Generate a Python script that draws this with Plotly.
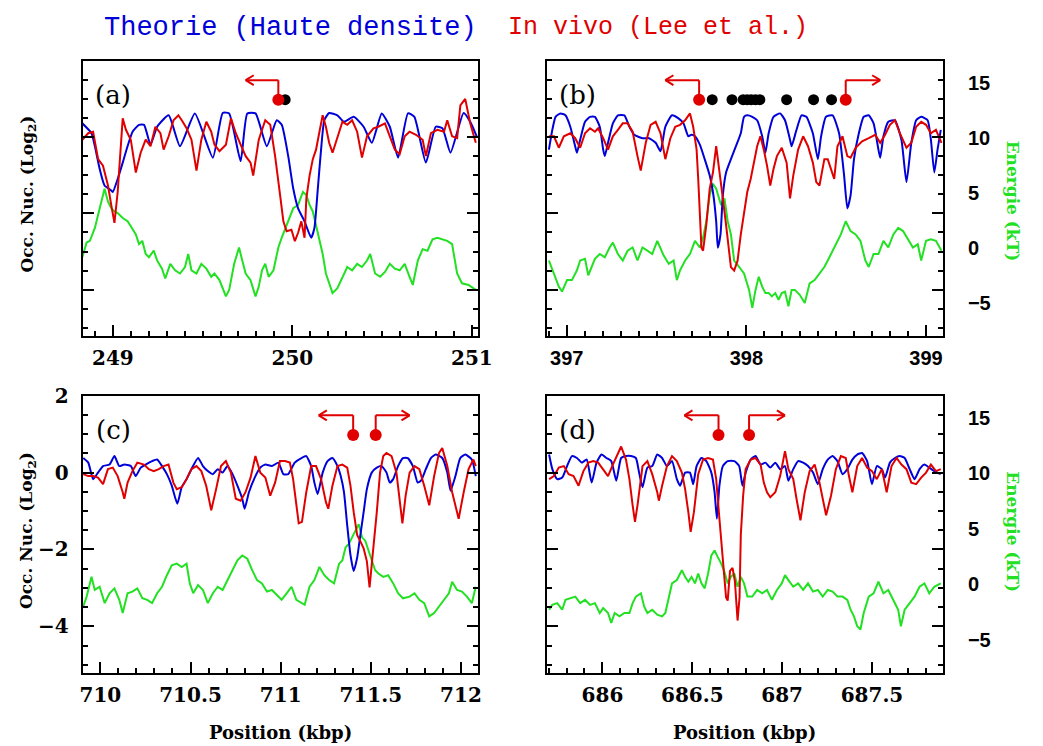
import plotly.graph_objects as go

# ---------------- data ----------------
TITLE_THEORY = "Theorie (Haute densite)"
TITLE_VIVO = "In vivo (Lee et al.)"
PANEL_LABELS = ["(a)", "(b)", "(c)", "(d)"]
X_RANGES = [(248.832, 251.035), (396.893, 399.094), (709.902, 712.095), (685.694, 687.895)]
X_DTICK = [1, 1, 0.5, 0.5]
LOG_RANGE = (-5.22, 2.001)
LOG_TICKS = [2, 0, -2, -4]
LOG_TICKTEXT = ["2", "0", "\u22122", "\u22124"]
EN_RANGE = (-8, 17)
EN_TICKS = [-5, 0, 5, 10, 15]
EN_TICKTEXT = ["\u22125", "0", "5", "10", "15"]

# panel (a)  position (kbp), log2 occupancy / energy (kT)
A_BLUE = [(248.830, 0.36), (248.881, 0.10), (248.900, -0.24), (248.927, -0.84), (248.954, -1.27), (248.991, -1.40), (249.000, -1.44), (249.027, -1.10), (249.055, -0.67), (249.082, -0.24), (249.110, 0.14), (249.146, 0.32), (249.174, 0.32), (249.210, -0.20), (249.247, 0.27), (249.311, 0.57), (249.374, -0.24), (249.457, 0.62), (249.557, -0.54), (249.612, 0.63), (249.648, 0.62), (249.712, -0.63), (249.749, 0.62), (249.795, 0.62), (249.858, -0.24), (249.913, 0.44), (249.941, 0.32), (249.977, -0.50), (250.005, -1.35), (250.032, -1.87), (250.068, -2.21), (250.105, -2.64), (250.123, -2.38), (250.142, -1.35), (250.160, -0.33), (250.178, 0.44), (250.205, 0.63), (250.251, 0.57), (250.288, 0.40), (250.342, 0.53), (250.397, 0.27), (250.443, -0.15), (250.498, 0.62), (250.543, 0.27), (250.589, -0.54), (250.644, 0.62), (250.680, 0.53), (250.744, -0.67), (250.799, 0.27), (250.836, 0.23), (250.881, -0.41), (250.954, 0.63), (250.991, 0.40), (251.027, 0.02)]
A_RED = [(248.830, -0.07), (248.863, 0.10), (248.890, 0.14), (248.918, -0.58), (248.945, -0.75), (248.973, -1.27), (248.991, -1.78), (249.009, -2.25), (249.027, -1.44), (249.042, -0.33), (249.055, 0.49), (249.073, 0.19), (249.100, -0.07), (249.128, -0.93), (249.155, -0.41), (249.183, -0.07), (249.210, -0.24), (249.237, 0.27), (249.265, 0.10), (249.283, -0.33), (249.311, 0.02), (249.338, 0.44), (249.365, 0.57), (249.384, 0.44), (249.411, 0.23), (249.438, -0.07), (249.466, -0.88), (249.493, -0.07), (249.521, 0.40), (249.548, 0.14), (249.566, -0.20), (249.594, -0.37), (249.630, -0.20), (249.658, 0.49), (249.685, 0.10), (249.712, -0.20), (249.740, -0.50), (249.767, -0.67), (249.782, -1.01), (249.813, -0.07), (249.849, 0.44), (249.877, 0.32), (249.904, -0.50), (249.932, -1.53), (249.950, -2.21), (249.968, -2.47), (249.995, -2.43), (250.014, -2.73), (250.032, -2.51), (250.050, -2.21), (250.068, -2.64), (250.078, -1.61), (250.096, -1.01), (250.114, -0.58), (250.132, -0.33), (250.151, 0.14), (250.169, 0.57), (250.187, 0.27), (250.205, -0.15), (250.224, -0.41), (250.251, -0.03), (250.279, 0.40), (250.306, 0.32), (250.333, 0.44), (250.361, 0.14), (250.388, -0.54), (250.416, 0.02), (250.452, 0.23), (250.479, 0.27), (250.516, 0.36), (250.543, 0.02), (250.571, -0.33), (250.598, -0.45), (250.626, 0.02), (250.653, 0.14), (250.689, 0.06), (250.726, -0.07), (250.744, -0.50), (250.772, 0.10), (250.808, 0.19), (250.845, 0.14), (250.863, 0.44), (250.890, 0.02), (250.918, -0.03), (250.936, 0.83), (250.963, 1.00), (250.991, 0.36), (251.022, -0.15)]
A_GREEN = [(248.830, -0.84), (248.854, 0.50), (248.872, 0.65), (248.900, 1.83), (248.927, 3.61), (248.945, 4.80), (248.954, 5.39), (248.973, 4.21), (248.991, 3.61), (249.009, 3.32), (249.027, 3.17), (249.055, 2.72), (249.082, 2.43), (249.100, 1.98), (249.128, 1.24), (249.146, 0.35), (249.164, 0.65), (249.183, -0.54), (249.201, -0.84), (249.228, -0.24), (249.247, -1.13), (249.274, -1.87), (249.292, -2.76), (249.320, -1.43), (249.347, -2.02), (249.374, -2.31), (249.402, -1.72), (249.420, -0.54), (249.438, -2.02), (249.466, -2.31), (249.493, -1.43), (249.521, -1.87), (249.548, -2.61), (249.566, -2.31), (249.594, -2.91), (249.630, -4.39), (249.648, -3.80), (249.676, -1.43), (249.703, 0.05), (249.721, -1.13), (249.740, -2.31), (249.767, -2.91), (249.795, -4.39), (249.813, -3.50), (249.831, -2.02), (249.849, -1.43), (249.868, -2.61), (249.895, -2.02), (249.922, 0.05), (249.941, 0.94), (249.977, 2.43), (250.005, 3.61), (250.032, 3.91), (250.059, 5.09), (250.078, 4.80), (250.096, 3.91), (250.114, 3.32), (250.142, 1.24), (250.169, -0.54), (250.187, -2.31), (250.205, -3.20), (250.224, -4.09), (250.251, -3.65), (250.279, -2.61), (250.306, -1.72), (250.333, -2.02), (250.361, -1.43), (250.388, -1.72), (250.416, -1.13), (250.434, -0.54), (250.461, -2.31), (250.489, -2.61), (250.516, -2.17), (250.543, -1.43), (250.571, -1.87), (250.598, -2.02), (250.626, -1.43), (250.653, -2.61), (250.671, -3.35), (250.699, -1.13), (250.726, -0.10), (250.753, -0.24), (250.781, 0.79), (250.808, 0.94), (250.836, 0.79), (250.863, 0.65), (250.890, 0.35), (250.918, -2.31), (250.945, -3.20), (250.982, -3.35), (251.022, -3.80)]

# panel (b)
B_BLUE = [(396.901, -0.33), (396.920, 0.19), (396.938, 0.53), (396.965, 0.62), (396.993, 0.57), (397.020, 0.27), (397.047, -0.24), (397.057, -0.41), (397.075, -0.07), (397.102, 0.40), (397.130, 0.53), (397.157, 0.53), (397.184, 0.27), (397.203, -0.33), (397.212, -0.50), (397.230, -0.15), (397.257, 0.36), (397.285, 0.57), (397.321, 0.57), (397.349, 0.27), (397.376, 0.06), (397.422, -0.03), (397.458, -0.03), (397.495, -0.15), (397.522, -0.37), (397.549, 0.27), (397.586, 0.57), (397.622, 0.49), (397.650, 0.36), (397.677, 0.02), (397.695, 0.06), (397.714, 0.02), (397.741, -0.20), (397.768, -0.58), (397.796, -1.01), (397.814, -1.44), (397.832, -2.21), (397.841, -2.90), (397.856, -2.55), (397.869, -1.53), (397.887, -0.93), (397.914, -0.58), (397.942, -0.24), (397.969, 0.10), (397.987, 0.53), (398.005, 0.57), (398.033, 0.53), (398.060, 0.44), (398.088, 0.02), (398.106, -0.41), (398.124, 0.10), (398.151, 0.53), (398.188, 0.62), (398.215, 0.44), (398.243, -0.07), (398.252, -0.24), (398.279, 0.19), (398.307, 0.57), (398.334, 0.53), (398.370, 0.10), (398.398, -0.58), (398.416, 0.02), (398.443, 0.53), (398.480, 0.57), (398.516, 0.10), (398.544, -1.01), (398.562, -1.87), (398.580, -1.53), (398.599, -0.58), (398.626, 0.10), (398.653, 0.53), (398.681, 0.57), (398.708, 0.36), (398.735, -0.33), (398.745, -0.54), (398.763, 0.02), (398.790, 0.40), (398.827, 0.44), (398.863, -0.07), (398.891, -1.18), (398.918, -0.15), (398.945, 0.44), (398.973, 0.53), (399.009, 0.44), (399.027, -0.07), (399.046, -0.93), (399.064, -0.33), (399.082, 0.19)]
B_RED = [(396.901, 0.02), (396.929, 0.02), (396.956, -0.28), (396.984, 0.02), (397.020, 0.10), (397.047, -0.03), (397.075, -0.28), (397.102, 0.10), (397.130, 0.23), (397.157, 0.14), (397.175, 0.23), (397.203, -0.03), (397.230, -0.33), (397.257, 0.02), (397.285, 0.19), (397.312, 0.36), (397.339, 0.36), (397.367, 0.14), (397.394, -0.50), (397.412, -0.88), (397.440, -0.15), (397.467, 0.32), (397.495, 0.40), (397.522, 0.10), (397.549, -0.58), (397.577, -0.03), (397.604, 0.27), (397.631, 0.32), (397.659, 0.44), (397.686, 0.62), (397.704, 0.27), (397.723, -0.33), (397.732, -1.10), (397.741, -2.04), (397.750, -2.90), (397.759, -2.98), (397.777, -2.30), (397.796, -1.35), (397.814, -0.93), (397.832, -0.24), (397.850, -0.84), (397.869, -1.61), (397.887, -2.30), (397.905, -3.07), (397.914, -3.41), (397.932, -3.50), (397.951, -3.24), (397.969, -2.55), (397.987, -1.96), (398.005, -1.44), (398.024, -1.10), (398.042, -0.67), (398.060, -0.24), (398.078, 0.02), (398.097, -0.33), (398.115, -0.75), (398.133, -1.27), (398.151, -0.84), (398.170, -0.50), (398.197, -0.28), (398.224, -0.67), (398.243, -1.61), (398.261, -1.01), (398.288, -0.33), (398.316, 0.02), (398.343, -0.24), (398.370, -0.67), (398.389, -1.18), (398.407, -1.27), (398.434, -0.58), (398.453, -0.58), (398.471, -0.84), (398.489, -1.10), (398.507, -0.24), (398.535, 0.02), (398.562, -0.50), (398.580, -0.54), (398.608, -0.28), (398.644, -0.11), (398.681, -0.03), (398.717, 0.06), (398.745, -0.15), (398.772, 0.06), (398.799, 0.32), (398.827, 0.44), (398.854, 0.10), (398.891, -0.28), (398.918, -0.15), (398.945, 0.27), (398.973, 0.40), (399.000, 0.32), (399.027, 0.10), (399.055, 0.19), (399.086, -0.15)]
B_GREEN = [(396.901, -1.13), (396.929, -2.31), (396.956, -3.50), (396.974, -3.95), (397.002, -2.91), (397.029, -2.91), (397.057, -2.02), (397.075, -1.13), (397.102, -0.98), (397.120, -2.47), (397.139, -1.72), (397.157, -0.98), (397.184, -0.54), (397.212, -0.84), (397.239, 0.05), (397.257, 0.50), (397.285, -0.54), (397.312, -1.13), (397.339, -0.24), (397.367, 0.05), (397.394, -1.13), (397.422, 0.05), (397.449, -0.24), (397.476, -0.54), (397.504, 0.65), (397.522, 0.05), (397.540, -0.69), (397.568, -1.43), (397.595, -1.13), (397.613, -2.91), (397.631, -2.02), (397.659, -1.13), (397.686, -0.54), (397.714, 0.65), (397.741, 0.05), (397.759, 0.94), (397.777, 2.43), (397.796, 4.80), (397.814, 5.84), (397.832, 5.39), (397.859, 3.91), (397.878, 4.50), (397.896, 2.43), (397.914, 1.24), (397.932, -1.13), (397.960, -1.72), (397.987, -2.31), (398.015, -3.80), (398.033, -5.43), (398.051, -3.80), (398.069, -2.61), (398.088, -3.50), (398.106, -4.09), (398.124, -4.09), (398.142, -4.39), (398.161, -4.09), (398.179, -4.69), (398.197, -4.09), (398.215, -3.95), (398.234, -5.28), (398.252, -3.80), (398.270, -3.80), (398.297, -4.24), (398.325, -4.98), (398.352, -3.20), (398.380, -2.91), (398.407, -2.31), (398.434, -1.72), (398.453, -1.13), (398.480, -0.24), (398.507, 0.65), (398.526, 1.24), (398.553, 2.43), (398.580, 1.54), (398.608, 1.24), (398.635, 0.65), (398.662, -1.13), (398.681, -1.72), (398.708, -0.54), (398.735, -0.54), (398.763, 0.65), (398.790, 0.05), (398.818, 1.24), (398.845, 1.83), (398.872, 1.54), (398.900, 0.79), (398.927, 0.05), (398.954, 0.35), (398.973, -1.13), (399.000, 0.65), (399.027, 0.79), (399.055, 0.65), (399.086, -0.24)]

# panel (c)
C_BLUE = [(709.905, 0.38), (709.933, 0.26), (709.960, -0.17), (709.987, 0.00), (710.015, 0.17), (710.051, 0.21), (710.078, 0.43), (710.105, 0.17), (710.133, 0.21), (710.169, 0.17), (710.196, -0.09), (710.224, 0.13), (710.251, 0.21), (710.287, 0.30), (710.315, 0.34), (710.342, 0.17), (710.369, -0.04), (710.396, -0.34), (710.427, -0.81), (710.451, -0.38), (710.478, -0.17), (710.505, 0.09), (710.542, 0.38), (710.569, 0.17), (710.596, 0.04), (710.624, -0.04), (710.651, 0.09), (710.678, 0.00), (710.705, 0.17), (710.733, -0.04), (710.760, -0.34), (710.787, -0.68), (710.800, -0.94), (710.824, -0.51), (710.860, -0.09), (710.887, 0.13), (710.915, 0.21), (710.951, 0.17), (710.987, 0.26), (711.015, -0.04), (711.042, -0.04), (711.078, 0.26), (711.115, 0.38), (711.142, 0.43), (711.169, 0.17), (711.187, -0.26), (711.205, -0.56), (711.233, 0.00), (711.260, 0.30), (711.287, 0.38), (711.315, 0.17), (711.333, -0.09), (711.351, -0.51), (711.369, -1.37), (711.387, -2.14), (711.405, -2.56), (711.424, -2.22), (711.442, -1.62), (711.460, -1.03), (711.478, -0.43), (711.505, 0.00), (711.533, 0.13), (711.560, 0.17), (711.587, 0.00), (711.605, -0.26), (711.624, -0.17), (711.651, 0.17), (711.678, 0.38), (711.705, 0.38), (711.733, 0.17), (711.760, -0.26), (711.778, -0.21), (711.805, 0.09), (711.833, 0.38), (711.860, 0.47), (711.896, 0.38), (711.924, 0.00), (711.942, -0.47), (711.969, -0.09), (711.996, 0.38), (712.024, 0.47), (712.060, 0.34), (712.082, -0.09)]
C_RED = [(709.905, -0.04), (709.933, -0.09), (709.960, -0.09), (709.987, -0.13), (710.015, -0.30), (710.042, 0.09), (710.069, 0.13), (710.096, -0.09), (710.124, -0.51), (710.133, -0.68), (710.151, -0.26), (710.178, 0.04), (710.205, 0.26), (710.242, 0.21), (710.269, 0.09), (710.296, 0.04), (710.324, 0.09), (710.351, 0.17), (710.378, 0.21), (710.405, -0.26), (710.424, -0.43), (710.451, -0.38), (710.478, -0.17), (710.505, 0.09), (710.533, 0.17), (710.560, 0.04), (710.587, -0.34), (710.615, -0.98), (710.642, -0.43), (710.669, 0.17), (710.696, 0.30), (710.724, 0.00), (710.751, -0.68), (710.778, -0.73), (710.805, -0.51), (710.833, -0.13), (710.860, 0.43), (710.887, 0.00), (710.915, -0.13), (710.942, -0.60), (710.969, -0.26), (710.996, 0.30), (711.024, 0.30), (711.051, 0.26), (711.069, -0.17), (711.087, -0.85), (711.100, -1.32), (711.118, -1.28), (711.142, -0.51), (711.169, 0.17), (711.196, 0.17), (711.224, -0.17), (711.251, -0.77), (711.264, -0.94), (711.287, -0.34), (711.315, 0.17), (711.342, 0.21), (711.369, 0.13), (711.387, -0.34), (711.405, -1.03), (711.424, -1.62), (711.442, -1.79), (711.460, -1.97), (711.478, -2.31), (711.493, -2.99), (711.505, -2.39), (711.518, -1.79), (711.533, -1.03), (711.551, 0.00), (711.569, 0.43), (711.587, 0.51), (711.615, 0.43), (711.642, 0.00), (711.660, -0.77), (711.675, -1.32), (711.693, -0.60), (711.715, 0.00), (711.742, 0.17), (711.769, 0.09), (711.796, -0.34), (711.824, -0.85), (711.851, -0.09), (711.878, 0.51), (711.896, 0.64), (711.924, 0.17), (711.951, -0.51), (711.987, -1.20), (712.015, -0.51), (712.042, 0.09), (712.069, 0.34), (712.082, 0.17)]
C_GREEN = [(709.905, -1.99), (709.924, -1.10), (709.951, 0.68), (709.969, -0.50), (709.996, -0.21), (710.024, -1.69), (710.051, -0.80), (710.078, -0.36), (710.105, -1.39), (710.124, -2.58), (710.151, -0.80), (710.178, -0.65), (710.205, -0.36), (710.233, -1.25), (710.260, -1.39), (710.287, -1.69), (710.315, -0.80), (710.342, -0.21), (710.369, 0.83), (710.396, 1.72), (710.424, 1.87), (710.451, 1.57), (710.478, 1.87), (710.496, 0.09), (710.515, -0.80), (710.542, -0.06), (710.569, -0.50), (710.596, -1.69), (710.624, -0.80), (710.651, -0.21), (710.678, -0.50), (710.705, 0.39), (710.733, 1.28), (710.760, 2.16), (710.787, 2.61), (710.815, 2.31), (710.842, 1.28), (710.869, 0.39), (710.896, 0.09), (710.924, -0.65), (710.951, -0.50), (710.978, -0.95), (711.005, -1.39), (711.033, -0.80), (711.060, -0.21), (711.087, -1.39), (711.115, -1.69), (711.133, -1.84), (711.160, -0.21), (711.187, 0.39), (711.215, 1.57), (711.242, 0.83), (711.269, 0.39), (711.296, 0.09), (711.324, 1.87), (711.342, 2.16), (711.360, 3.35), (711.378, 3.65), (711.396, 4.24), (711.415, 4.83), (711.433, 5.43), (711.451, 4.24), (711.469, 3.94), (711.487, 3.05), (711.505, 2.16), (711.524, 1.28), (711.542, 0.98), (711.569, 0.68), (711.596, 0.83), (711.624, 0.09), (711.651, -0.80), (711.678, -1.25), (711.715, -1.10), (711.742, -0.80), (711.769, -1.39), (711.796, -1.69), (711.824, -2.88), (711.851, -2.58), (711.878, -1.99), (711.905, -1.39), (711.933, -0.80), (711.951, 0.24), (711.978, -0.50), (712.005, -0.65), (712.033, -1.10), (712.060, -1.69), (712.082, -0.21)]

# panel (d)
D_BLUE = [(685.703, 0.47), (685.721, 0.09), (685.748, -0.17), (685.776, -0.13), (685.803, 0.17), (685.830, 0.43), (685.858, 0.38), (685.885, 0.26), (685.912, 0.34), (685.940, -0.26), (685.967, 0.26), (685.995, 0.47), (686.022, 0.38), (686.049, 0.30), (686.077, -0.21), (686.104, 0.38), (686.131, 0.43), (686.159, 0.43), (686.186, 0.38), (686.204, 0.00), (686.223, -0.38), (686.250, 0.13), (686.277, 0.17), (686.305, 0.47), (686.332, 0.38), (686.359, 0.17), (686.387, 0.30), (686.414, -0.17), (686.432, -0.34), (686.460, 0.00), (686.487, 0.00), (686.505, -0.30), (686.524, 0.17), (686.551, 0.38), (686.578, 0.30), (686.606, 0.00), (686.624, -0.51), (686.637, -1.20), (686.651, -0.34), (686.670, 0.17), (686.697, 0.30), (686.734, 0.30), (686.761, 0.17), (686.779, -0.34), (686.797, 0.00), (686.825, 0.34), (686.852, 0.43), (686.880, 0.21), (686.907, 0.26), (686.934, 0.13), (686.962, 0.26), (686.989, 0.09), (687.016, 0.17), (687.035, -0.21), (687.062, 0.09), (687.089, 0.30), (687.117, 0.26), (687.144, 0.17), (687.172, 0.00), (687.199, -0.30), (687.226, 0.09), (687.254, 0.34), (687.281, 0.43), (687.308, 0.30), (687.336, -0.04), (687.363, 0.09), (687.391, 0.34), (687.418, 0.47), (687.445, 0.51), (687.473, 0.30), (687.500, -0.30), (687.527, 0.17), (687.555, 0.09), (687.573, -0.13), (687.600, 0.26), (687.628, 0.38), (687.655, 0.43), (687.682, 0.38), (687.710, 0.09), (687.737, -0.17), (687.765, 0.09), (687.792, 0.21), (687.819, 0.13), (687.847, 0.04), (687.883, -0.04)]
D_RED = [(685.703, -0.17), (685.730, -0.09), (685.757, 0.13), (685.785, 0.17), (685.812, -0.04), (685.839, -0.09), (685.867, -0.34), (685.894, 0.04), (685.922, 0.26), (685.949, 0.30), (685.976, 0.26), (686.004, 0.09), (686.031, -0.09), (686.058, 0.21), (686.086, 0.51), (686.104, 0.68), (686.131, 0.34), (686.150, -0.17), (686.168, -0.85), (686.181, -1.28), (686.195, -0.85), (686.223, 0.17), (686.250, 0.30), (686.277, -0.04), (686.305, -0.51), (686.314, -0.73), (686.332, -0.34), (686.359, 0.17), (686.387, 0.43), (686.414, 0.30), (686.442, 0.00), (686.460, -0.43), (686.478, -1.03), (686.491, -1.54), (686.509, -1.03), (686.533, -0.04), (686.560, 0.34), (686.588, 0.38), (686.615, 0.34), (686.633, -0.17), (686.651, -1.20), (686.670, -2.22), (686.688, -3.25), (686.697, -3.33), (686.710, -2.56), (686.724, -2.48), (686.737, -2.82), (686.752, -3.85), (686.763, -3.25), (686.770, -1.62), (686.783, -0.60), (686.797, 0.09), (686.825, 0.34), (686.852, 0.38), (686.880, 0.21), (686.898, -0.26), (686.916, -0.51), (686.934, -0.64), (686.962, -0.51), (686.989, -0.09), (687.016, 0.56), (687.035, 0.09), (687.062, -0.17), (687.080, -0.68), (687.102, -1.24), (687.126, -0.51), (687.153, 0.04), (687.181, 0.21), (687.208, -0.26), (687.226, -0.68), (687.245, -1.11), (687.272, -0.60), (687.299, 0.09), (687.327, 0.43), (687.354, 0.38), (687.372, -0.09), (687.391, -0.51), (687.418, 0.17), (687.445, 0.38), (687.473, 0.13), (687.500, 0.04), (687.527, -0.17), (687.555, 0.09), (687.582, -0.51), (687.609, 0.17), (687.637, 0.38), (687.664, 0.21), (687.692, 0.09), (687.719, -0.26), (687.746, -0.30), (687.774, -0.13), (687.801, 0.00), (687.828, 0.21), (687.856, 0.04), (687.883, 0.09)]
D_GREEN = [(685.703, -2.28), (685.721, -1.84), (685.748, -1.69), (685.776, -2.28), (685.794, -1.39), (685.821, -1.25), (685.849, -1.10), (685.876, -1.69), (685.903, -1.39), (685.931, -1.84), (685.958, -1.69), (685.985, -2.58), (686.004, -2.14), (686.031, -2.58), (686.049, -3.47), (686.068, -2.58), (686.095, -2.88), (686.122, -2.58), (686.150, -2.58), (686.168, -1.69), (686.186, -1.10), (686.214, -0.80), (686.232, -1.99), (686.250, -2.58), (686.277, -2.28), (686.305, -2.73), (686.332, -2.88), (686.350, -2.58), (686.369, -1.10), (686.387, 0.09), (686.414, 0.39), (686.442, 1.28), (686.460, 0.68), (686.478, 0.24), (686.496, 0.68), (686.515, 0.09), (686.533, 0.98), (686.551, 0.09), (686.569, -0.36), (686.588, 0.98), (686.606, 2.61), (686.624, 3.05), (686.642, 2.46), (686.661, 1.87), (686.679, 1.13), (686.697, 0.09), (686.715, 0.68), (686.734, 0.98), (686.752, -0.21), (686.770, 0.68), (686.788, 0.09), (686.807, -1.10), (686.834, -1.10), (686.861, -0.50), (686.889, -0.80), (686.916, -0.50), (686.943, -1.39), (686.971, -0.50), (686.998, 0.09), (687.016, 0.83), (687.035, 0.39), (687.062, -0.21), (687.089, 0.09), (687.117, -0.50), (687.144, 0.09), (687.172, -0.65), (687.199, -0.50), (687.226, -1.10), (687.254, -0.50), (687.281, -0.65), (687.308, -1.10), (687.336, -1.10), (687.363, -1.39), (687.381, -2.28), (687.400, -2.88), (687.418, -3.77), (687.436, -4.06), (687.454, -2.58), (687.482, -1.10), (687.509, -0.80), (687.536, 0.24), (687.564, -0.80), (687.591, -0.50), (687.619, -1.39), (687.646, -2.28), (687.661, -3.77), (687.682, -2.28), (687.710, -1.69), (687.737, -1.10), (687.765, -0.21), (687.792, 0.09), (687.819, -0.80), (687.847, -0.21), (687.883, 0.09)]

# promoter marks: red dots, black dots, arrow corners (kbp) and arrow tips (kbp)
A_RED_DOTS = [249.922]
A_BLACK_DOTS = [249.960]
A_ARROWS = [(249.922, 249.740)]
B_RED_DOTS = [397.737, 398.553]
B_BLACK_DOTS = [397.810, 397.920, 397.982, 398.005, 398.027, 398.051, 398.075, 398.224, 398.374, 398.474]
B_ARROWS = [(397.737, 397.549), (398.553, 398.745)]
C_RED_DOTS = [711.402, 711.527]
C_BLACK_DOTS = []
C_ARROWS = [(711.402, 711.211), (711.527, 711.715)]
D_RED_DOTS = [686.646, 686.816]
D_BLACK_DOTS = []
D_ARROWS = [(686.646, 686.456), (686.816, 687.016)]
DOT_LEVEL = 0.98
ARROW_LEVEL = 1.49

# ---------------- styling ----------------
BLUE = "#0000d8"
RED = "#e00000"
GREEN = "#22e022"
SERIF = "DejaVu Serif"
SANS = "Liberation Sans"
W, H = 1043, 746
X_DOM = [(81 / W, 483 / W), (553.5 / W, 955.5 / W), (81 / W, 483 / W), (553.5 / W, 955.5 / W)]
Y_DOM = [(1 - 329.5 / H, 1 - 49.5 / H)] * 2 + [(1 - 672 / H, 1 - 390 / H)] * 2
HEAD_DX = 0.045   # arrow-head length in kbp (~8 px)
HEAD_DY = 0.13    # arrow-head half width in log2 units (~5 px)

panels = [
    (A_BLUE, A_RED, A_GREEN, A_RED_DOTS, A_BLACK_DOTS, A_ARROWS),
    (B_BLUE, B_RED, B_GREEN, B_RED_DOTS, B_BLACK_DOTS, B_ARROWS),
    (C_BLUE, C_RED, C_GREEN, C_RED_DOTS, C_BLACK_DOTS, C_ARROWS),
    (D_BLUE, D_RED, D_GREEN, D_RED_DOTS, D_BLACK_DOTS, D_ARROWS),
]

fig = go.Figure()
layout = {}
shapes = []
annotations = []

for i, (blue, red, green, rdots, bdots, arrows) in enumerate(panels):
    n = i + 1
    xa = "x" if n == 1 else f"x{n}"
    ye = "y" if n == 1 else f"y{n}"          # energy axis (base, right labels)
    yl = f"y{n + 4}"                           # log2 occupancy axis (left, overlay)
    xfont = SANS if n == 2 else SERIF

    fig.add_trace(go.Scatter(x=[p[0] for p in green], y=[p[1] for p in green], xaxis=xa, yaxis=ye,
                             mode="lines", line=dict(color=GREEN, width=2), showlegend=False))
    fig.add_trace(go.Scatter(x=[p[0] for p in blue], y=[p[1] for p in blue], xaxis=xa, yaxis=yl,
                             mode="lines", line=dict(color=BLUE, width=2, shape="spline", smoothing=0.5),
                             showlegend=False))
    fig.add_trace(go.Scatter(x=[p[0] for p in red], y=[p[1] for p in red], xaxis=xa, yaxis=yl,
                             mode="lines", line=dict(color=RED, width=2), showlegend=False))

    # promoter arrows: vertical stem, horizontal shaft, open arrow head
    for corner, tip in arrows:
        back = HEAD_DX if tip < corner else -HEAD_DX
        seg = dict(type="line", xref=xa, yref=yl, line=dict(color=RED, width=2))
        shapes.append(dict(seg, x0=corner, x1=corner, y0=DOT_LEVEL, y1=ARROW_LEVEL))
        shapes.append(dict(seg, x0=corner, x1=tip, y0=ARROW_LEVEL, y1=ARROW_LEVEL))
        shapes.append(dict(seg, x0=tip, x1=tip + back, y0=ARROW_LEVEL, y1=ARROW_LEVEL + HEAD_DY))
        shapes.append(dict(seg, x0=tip, x1=tip + back, y0=ARROW_LEVEL, y1=ARROW_LEVEL - HEAD_DY))
    if bdots:
        fig.add_trace(go.Scatter(x=bdots, y=[DOT_LEVEL] * len(bdots), xaxis=xa, yaxis=yl, mode="markers",
                                 marker=dict(color="black", size=11), showlegend=False))
    fig.add_trace(go.Scatter(x=rdots, y=[DOT_LEVEL] * len(rdots), xaxis=xa, yaxis=yl, mode="markers",
                             marker=dict(color=RED, size=12), showlegend=False))

    xkey = "xaxis" if n == 1 else f"xaxis{n}"
    layout[xkey] = dict(
        domain=X_DOM[i], anchor=ye, range=list(X_RANGES[i]), dtick=X_DTICK[i], tick0=0,
        showline=True, linecolor="black", linewidth=2, mirror=True,
        ticks="inside", ticklen=11, tickwidth=1.5, tickcolor="black",
        minor=dict(dtick=0.1, ticks="inside", ticklen=5, tickwidth=1.5, tickcolor="black"),
        showgrid=False, zeroline=False, ticklabelstandoff=3,
        tickfont=dict(family=xfont, size=20, color="black", weight="bold"),
    )
    ekey = "yaxis" if n == 1 else f"yaxis{n}"
    layout[ekey] = dict(
        domain=Y_DOM[i], anchor=xa, side="right", range=list(EN_RANGE),
        tickvals=EN_TICKS, ticktext=EN_TICKTEXT, ticks="", showline=False, showgrid=False, zeroline=False,
        showticklabels=(n in (2, 4)), ticklabelstandoff=24,
        tickfont=dict(family=SANS, size=20, color="black", weight="bold"),
    )
    lkey = f"yaxis{n + 4}"
    layout[lkey] = dict(
        overlaying=ye, anchor=xa, side="left", range=list(LOG_RANGE),
        tickvals=LOG_TICKS, ticktext=LOG_TICKTEXT, showticklabels=(n == 3),
        showline=True, linecolor="black", linewidth=2, mirror="ticks",
        ticks="inside", ticklen=11, tickwidth=1.5, tickcolor="black",
        minor=dict(dtick=0.5, tick0=0, ticks="inside", ticklen=5, tickwidth=1.5, tickcolor="black"),
        showgrid=False, zeroline=False, ticklabelstandoff=8,
        tickfont=dict(family=SERIF, size=20, color="black", weight="bold"),
    )

    # panel label
    annotations.append(dict(xref=f"{xa} domain", yref=f"{ye} domain", x=0.077, y=0.877, text=PANEL_LABELS[i],
                            showarrow=False, font=dict(family=SERIF, size=26, color="black"),
                            xanchor="center", yanchor="middle"))

# axis titles (left / right / bottom)
for yc in (185, 527):
    annotations.append(dict(xref="paper", yref="paper", x=25 / W, y=1 - yc / H, textangle=-90,
                            text="Occ. Nuc. (Log<sub>2</sub>)", showarrow=False,
                            font=dict(family=SERIF, size=17, color="black", weight="bold"),
                            xanchor="center", yanchor="middle"))
for yc in (192, 528):
    annotations.append(dict(xref="paper", yref="paper", x=1027 / W, y=1 - yc / H, textangle=90,
                            text="Energie (kT)", showarrow=False,
                            font=dict(family=SERIF, size=17, color=GREEN, weight="bold"),
                            xanchor="center", yanchor="middle"))
for xc in (282, 754):
    annotations.append(dict(xref="paper", yref="paper", x=xc / W, y=1 - 732 / H,
                            text="Position (kbp)", showarrow=False,
                            font=dict(family=SERIF, size=18, color="black", weight="bold"),
                            xanchor="center", yanchor="middle"))
# heading
annotations.append(dict(xref="paper", yref="paper", x=292 / W, y=1 - 16 / H, text=TITLE_THEORY,
                        showarrow=False, font=dict(family="Liberation Mono", size=27, color=BLUE),
                        xanchor="center", yanchor="middle"))
annotations.append(dict(xref="paper", yref="paper", x=666 / W, y=1 - 16 / H, text=TITLE_VIVO,
                        showarrow=False, font=dict(family="Liberation Mono", size=25, color=RED),
                        xanchor="center", yanchor="middle"))

fig.update_layout(
    width=W, height=H, margin=dict(l=0, r=0, t=0, b=0),
    paper_bgcolor="white", plot_bgcolor="white", showlegend=False,
    shapes=shapes, annotations=annotations, **layout,
)
fig.write_html("out.html")
